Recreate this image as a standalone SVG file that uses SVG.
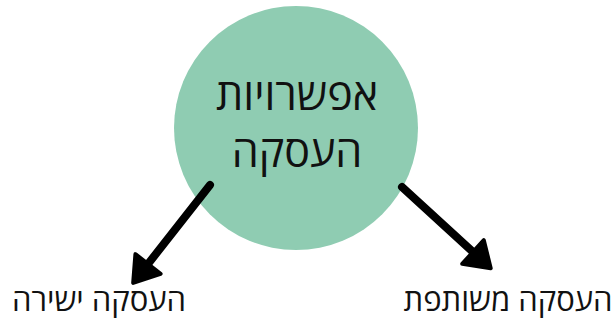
<svg xmlns="http://www.w3.org/2000/svg" width="614" height="320" viewBox="0 0 614 320">
<style>
.t{font-family:"Open Sans","DejaVu Sans",sans-serif;fill:#111;text-anchor:middle;direction:rtl}
.c{stroke:#000;stroke-width:8;stroke-linecap:round;fill:none}
</style>
<defs>
<marker id="ah" markerUnits="userSpaceOnUse" viewBox="-4 -20 32 40" markerWidth="32" markerHeight="40" refX="0" refY="0" orient="auto">
<path d="M0,-16 L24,0 L0,16 Z" fill="#000" stroke="#000" stroke-width="4" stroke-linejoin="round"/>
</marker>
</defs>
<rect width="614" height="320" fill="#fff"/>
<g id="node-main">
<circle cx="296" cy="128" r="122" fill="#8fccb2"/>
<text class="t" x="297" y="110" font-size="43">אפשרויות</text>
<text class="t" x="297" y="167" font-size="43">העסקה</text>
</g>
<g id="node-direct">
<text class="t" x="99" y="311" font-size="31">העסקה ישירה</text>
</g>
<g id="node-joint">
<text class="t" x="508" y="311" font-size="31">העסקה משותפת</text>
</g>
<g id="connectors">
<line class="c" x1="210" y1="185" x2="148" y2="264" marker-end="url(#ah)"/>
<line class="c" x1="402" y1="187" x2="473" y2="252" marker-end="url(#ah)"/>
</g>
</svg>
